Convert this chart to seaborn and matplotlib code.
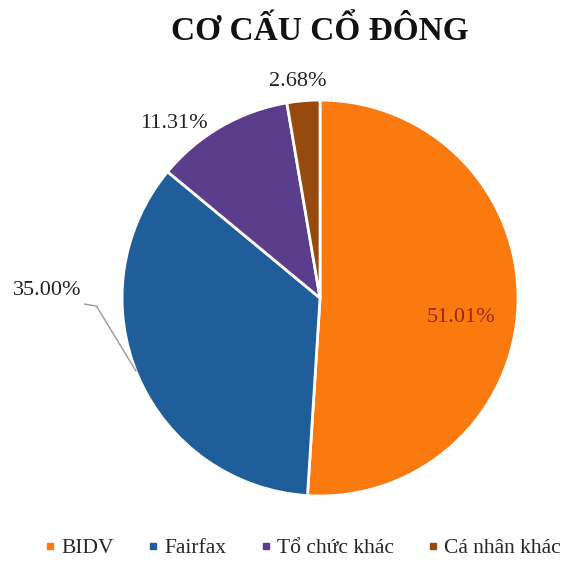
import numpy as np
import matplotlib
matplotlib.use("Agg")
import matplotlib.pyplot as plt
from matplotlib.lines import Line2D
import seaborn as sns

labels = ["BIDV", "Fairfax", "Tổ chức khác", "Cá nhân khác"]
values = [51.01, 35.00, 11.31, 2.68]
colors = ["#FB7A10", "#1F5E9A", "#5A3E8C", "#964A0E"]

sns.set_theme(style="white")
plt.rcParams["font.family"] = ["Liberation Serif", "DejaVu Serif"]

fig = plt.figure(figsize=(5.84, 5.65), dpi=100)
ax = fig.add_axes([0.209, 0.122, 0.678, 0.701])

wedges, _ = ax.pie(values, colors=colors, startangle=90, counterclock=False,
                   wedgeprops=dict(edgecolor="white", linewidth=2))
ax.set_xlim(-1, 1)
ax.set_ylim(-1, 1)
ax.set_aspect("equal")

# label placement: (radius, angle shift in degrees)
place = [(0.72, -6), (1.38, -25), (1.15, 10), (1.10, 1)]
for w, v, (r, shift) in zip(wedges, values, place):
    mid = np.deg2rad((w.theta1 + w.theta2) / 2)
    txt = f"{v:.2f}%"
    tx = r * np.cos(mid + np.deg2rad(shift))
    ty = r * np.sin(mid + np.deg2rad(shift))
    if r < 1:
        ax.text(tx, ty, txt, ha="center", va="center", fontsize=16, color="#9A2A12")
        continue
    ax.text(tx, ty, txt, ha="center", va="center", fontsize=16, color="#222222",
            clip_on=False)
    if shift < -20:
        # leader line: short horizontal piece after the text, then down to the wedge
        ex, ey = np.cos(mid - 0.03), np.sin(mid - 0.03)
        x0 = tx + 0.19
        ax.plot([x0, x0 + 0.06, ex], [ty - 0.07, ty - 0.08, ey], color="#999999",
                lw=1, clip_on=False)

fig.text(0.548, 1 - 32 / 565, "CƠ CẤU CỔ ĐÔNG", ha="center", va="center",
         fontsize=24, fontweight="bold", color="#111111")

handles = [Line2D([], [], marker="s", linestyle="", markersize=5, color=c) for c in colors]
fig.legend(handles, labels, loc="center", bbox_to_anchor=(0.515, 1 - 548 / 565),
           ncol=4, frameon=False, fontsize=15.5, handletextpad=0.05, columnspacing=1.4,
           handlelength=0.9)

fig.savefig("out.png", dpi=100)
